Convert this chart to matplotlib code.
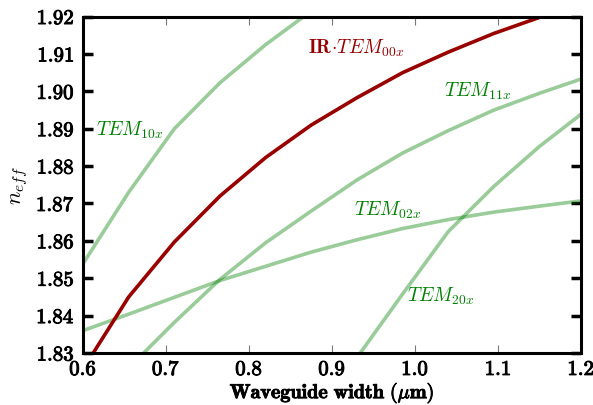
import matplotlib
matplotlib.use("Agg")
import matplotlib.pyplot as plt
import matplotlib.patheffects as pe
from matplotlib.ticker import FuncFormatter

plt.rcParams['mathtext.fontset'] = 'cm'
plt.rcParams['font.family'] = ['DejaVu Serif']

# Data
width = [0.6, 0.655, 0.71, 0.765, 0.82, 0.875, 0.93, 0.985, 1.04, 1.095, 1.15, 1.2]
tem00 = [1.8257, 1.8450, 1.8597, 1.8720, 1.8823, 1.8910, 1.8983, 1.9050, 1.9105, 1.9155, 1.9198, 1.9235]
tem10 = [1.8539, 1.8730, 1.8900, 1.9023, 1.9125, 1.9215, 1.9290, 1.9355, 1.9410, 1.9460, 1.9505, 1.9545]
tem11 = [1.8140, 1.8260, 1.8382, 1.8497, 1.8595, 1.8680, 1.8763, 1.8835, 1.8895, 1.8950, 1.8995, 1.9033]
tem02 = [1.8360, 1.8404, 1.8449, 1.8494, 1.8532, 1.8570, 1.8603, 1.8633, 1.8657, 1.8677, 1.8693, 1.8707]
width20 = [0.875, 0.93, 0.985, 1.04, 1.095, 1.15, 1.2]
tem20 = [1.8100, 1.8288, 1.8458, 1.8625, 1.8746, 1.8853, 1.8939]

xticks = [0.6, 0.7, 0.8, 0.9, 1.0, 1.1, 1.2]
yticks = [1.83, 1.84, 1.85, 1.86, 1.87, 1.88, 1.89, 1.90, 1.91, 1.92]

fig = plt.figure(figsize=(5.93, 4.06), dpi=100)
ax = fig.add_axes([0.14, 0.128, 0.84, 0.8287])

gkw = dict(color='green', alpha=0.4, lw=2.6, solid_capstyle='butt')
ax.plot(width, tem10, **gkw)
ax.plot(width, tem11, **gkw)
ax.plot(width, tem02, **gkw)
ax.plot(width20, tem20, **gkw)
ax.plot(width, tem00, color='#990000', lw=2.6)

ax.set_xlim(0.6, 1.2)
ax.set_ylim(1.83, 1.92)
ax.set_xticks(xticks)
ax.set_yticks(yticks)
ax.xaxis.set_major_formatter(FuncFormatter(lambda v, p: r'$\mathbf{%.1f}$' % v))
ax.yaxis.set_major_formatter(FuncFormatter(lambda v, p: r'$\mathbf{%.2f}$' % v))

for s in ax.spines.values():
    s.set_linewidth(2.2)
ax.tick_params(axis='y', direction='in', length=7, width=2.5, right=True, labelsize=15, pad=6)
ax.tick_params(axis='x', direction='in', length=6, width=0.8, color='#777777', top=True, labelsize=15, pad=5)

bold = [pe.withStroke(linewidth=0.7, foreground='black')]
for lab in ax.get_xticklabels() + ax.get_yticklabels():
    lab.set_path_effects(bold)

xl = ax.set_xlabel(r'$\mathbf{Waveguide\ width\ (}\mu\mathbf{m)}$', fontsize=14.5, labelpad=1.5)
xl.set_path_effects([pe.withStroke(linewidth=0.6, foreground='black')])
ax.set_ylabel(r'$n_{eff}$', fontsize=16, labelpad=4)

tkw = dict(color='green', fontsize=14)
ax.text(0.616, 1.8885, r'$TEM_{10x}$', **tkw)
ax.text(0.871, 1.9103, r'$\mathbf{IR}\!\cdot\! TEM_{00x}$', color='#990000', fontsize=14)
ax.text(1.035, 1.8988, r'$TEM_{11x}$', **tkw)
ax.text(0.9265, 1.8669, r'$TEM_{02x}$', **tkw)
ax.text(0.99, 1.8439, r'$TEM_{20x}$', **tkw)

fig.savefig('out.png', dpi=100)
